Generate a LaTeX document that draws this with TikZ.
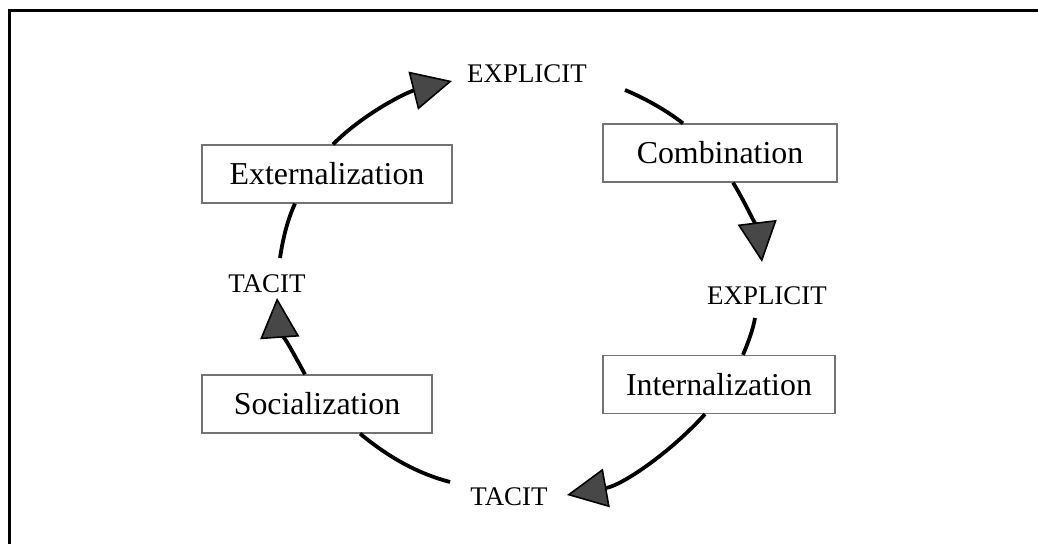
\documentclass[tikz,border=0pt]{standalone}
\usepackage{fontspec}
\setmainfont{Liberation Serif}
\usetikzlibrary{arrows.meta}
\tikzset{
  procbox/.style={draw=black!55, line width=1.3bp, fill=white, minimum height=58bp, inner sep=0pt, font=\fontsize{32}{36}\selectfont},
  statelbl/.style={inner sep=0pt, font=\fontsize{27}{30}\selectfont},
  arc/.style={line width=3.8bp, black},
  arcarrow/.style={arc, -{Triangle[length=40bp,width=39bp,fill=black!72,line width=1.6bp]}},
  frameline/.style={line width=3bp, black}
}
\begin{document}
\begin{tikzpicture}[x=1bp,y=1bp]
\useasboundingbox (0,0) rectangle (1038,544);
\draw[frameline] (1038,533) -- (9.5,533) -- (9.5,0);

% nodes
\node[statelbl] (expT) at (527,470) {EXPLICIT};
\node[procbox, minimum width=234bp] (comb) at (720,391) {Combination};
\node[statelbl] (expR) at (767,248) {EXPLICIT};
\node[procbox, minimum width=232bp] (int) at (719,159.5) {Internalization};
\node[statelbl] (tacB) at (509,47) {TACIT};
\node[procbox, minimum width=230bp] (soc) at (317,140) {Socialization};
\node[statelbl] (tacL) at (267,260) {TACIT};
\node[procbox, minimum width=250bp] (ext) at (327,370) {Externalization};

% connectors
\draw[arc] ([shift={(13,26)}]tacL.center) .. controls +(2.7,18.1) and +(-7.9,-16.9) .. ([xshift=-32bp]ext.south);
\draw[arcarrow] ([xshift=6bp]ext.north) .. controls +(30.6,30.9) and +(-45,-11.2) .. ([shift={(-75,-7)}]expT.center);
\draw[arc] ([shift={(98,-16)}]expT.center) .. controls +(20.3,-8.5) and +(-16.8,13.1) .. ([xshift=-37bp]comb.north);
\draw[arcarrow] ([xshift=13bp]comb.south) .. controls +(15,-24.1) and +(-3.3,27.3) .. ([shift={(-5,34)}]expR.center);
\draw[arc] ([shift={(-12,-22)}]expR.center) .. controls +(-2.3,-12.8) and +(5,12.2) .. ([xshift=24bp]int.north);
\draw[arcarrow] ([xshift=-14bp]int.south) .. controls +(-35.1,-38.8) and +(55.4,9.9) .. ([shift={(58,2)}]tacB.center);
\draw[arc] ([xshift=43bp]soc.south) .. controls +(26.9,-22) and +(-35.2,9.3) .. ([shift={(-59,15)}]tacB.center);
\draw[arcarrow] ([xshift=-12bp]soc.north) .. controls +(-13.6,24.6) and +(1.9,-27.3) .. ([shift={(10,-14)}]tacL.center);
\end{tikzpicture}
\end{document}
